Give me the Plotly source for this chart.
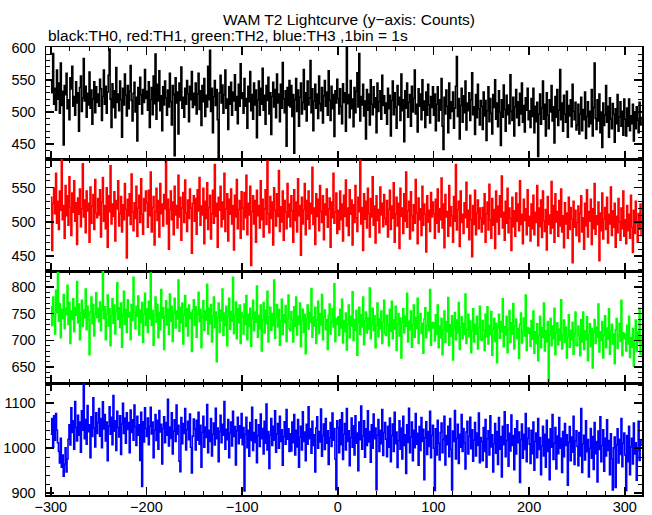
import plotly.graph_objects as go
from plotly.subplots import make_subplots

# time bins: 1 bin = 1 s, first bin at t = -300 s
t_start = -300
bin_size = 1

th0 = [
548, 530, 591, 512, 537, 503, 565, 520, 545, 498, 576, 510, 532, 449, 541, 527, 560, 505, 519, 488, 553, 536, 571, 509, 524, 495, 547, 514, 530, 470, 538, 556, 501, 522, 583, 517, 540, 492, 529, 511, 562, 506, 534, 481, 520, 547, 499, 539, 515, 528,
509, 551, 536, 487, 524, 565, 512, 540, 498, 531, 557, 598, 520, 476, 544, 507, 533, 491, 569, 515, 528, 502, 548, 519, 461, 537, 511, 559, 526, 494, 541, 505, 532, 572, 518, 486, 529, 546, 500, 523, 455, 538, 512, 554, 527, 497, 535, 515, 566, 521,
532, 503, 547, 476, 519, 538, 496, 556, 513, 590, 489, 543, 517, 564, 502, 525, 471, 539, 511, 548, 522, 495, 534, 508, 560, 516, 480, 541, 527, 432, 553, 514, 531, 466, 545, 518, 570, 506, 523, 492, 537, 512, 549, 528, 485, 540, 519, 563, 507, 529,
511, 545, 497, 528, 560, 504, 533, 479, 541, 516, 552, 493, 526, 508, 571, 519, 596, 501, 537, 468, 524, 549, 510, 535, 488, 428, 530, 557, 514, 542, 498, 527, 565, 506, 520, 473, 539, 512, 546, 495, 531, 517, 558, 503, 524, 482, 543, 509, 575, 521,
530, 498, 552, 509, 521, 475, 540, 516, 563, 502, 527, 489, 545, 511, 534, 460, 519, 548, 495, 537, 512, 568, 503, 526, 481, 541, 518, 554, 497, 530, 465, 524, 546, 508, 535, 491, 559, 514, 528, 485, 543, 506, 577, 520, 499, 533, 447, 538, 510, 549,
508, 541, 493, 527, 436, 519, 552, 501, 534, 478, 523, 545, 497, 515, 566, 504, 530, 486, 548, 511, 522, 580, 499, 536, 471, 517, 543, 506, 528, 490, 556, 513, 502, 538, 483, 525, 549, 509, 531, 495, 564, 518, 487, 540, 505, 527, 462, 533, 514, 551,
521, 497, 536, 509, 482, 544, 515, 530, 470, 606, 513, 527, 491, 549, 505, 520, 477, 538, 499, 532, 561, 508, 591, 486, 524, 511, 543, 494, 517, 458, 535, 503, 528, 480, 550, 512, 496, 539, 507, 522, 468, 545, 501, 516, 533, 489, 557, 510, 525, 498,
514, 481, 537, 505, 526, 463, 518, 548, 496, 530, 508, 475, 541, 511, 523, 487, 559, 502, 519, 454, 533, 506, 545, 492, 515, 527, 478, 540, 500, 521, 565, 497, 512, 469, 536, 509, 528, 488, 550, 503, 517, 476, 531, 495, 543, 511, 483, 524, 507, 539,
495, 528, 471, 512, 539, 486, 519, 503, 552, 478, 442, 523, 497, 534, 509, 468, 545, 490, 516, 501, 531, 475, 506, 540, 586, 493, 521, 458, 510, 537, 484, 525, 499, 548, 472, 514, 502, 530, 487, 519, 561, 496, 508, 465, 527, 491, 543, 505, 480, 518,
509, 473, 531, 494, 518, 456, 502, 539, 485, 521, 498, 466, 527, 507, 550, 489, 514, 477, 533, 500, 448, 519, 492, 542, 504, 470, 526, 496, 511, 482, 558, 501, 487, 523, 463, 508, 535, 491, 516, 479, 529, 497, 545, 484, 510, 469, 522, 503, 537, 488,
502, 476, 521, 493, 537, 468, 509, 485, 515, 431, 497, 528, 481, 506, 548, 489, 512, 463, 530, 495, 474, 519, 500, 541, 486, 508, 452, 524, 492, 535, 479, 503, 566, 488, 514, 470, 526, 497, 484, 532, 461, 510, 494, 519, 477, 543, 501, 488, 515, 472,
480, 512, 466, 497, 523, 471, 504, 488, 531, 459, 493, 516, 477, 501, 482, 535, 463, 507, 576, 490, 473, 519, 486, 528, 468, 500, 445, 514, 479, 495, 541, 484, 509, 461, 522, 489, 474, 513, 497, 453, 505, 482, 527, 470, 492, 516, 478, 501, 464, 520,
489, 463, 506, 478, 520, 471, 494, 482, 512, 455, 499, 474, 508, 487, 468, 515, 480, 493,
]

th1 = [
536, 458, 527, 549, 512, 571, 498, 530, 489, 545, 517, 591, 503, 524, 476, 553, 509, 538, 495, 566, 521, 480, 542, 514, 560, 501, 528, 467, 535, 511, 548, 493, 519, 585, 507, 532, 484, 545, 516, 527, 470, 551, 498, 523, 540, 489, 562, 513, 506, 534,
510, 547, 478, 529, 565, 501, 524, 490, 550, 463, 538, 515, 582, 497, 526, 508, 544, 472, 531, 519, 560, 494, 512, 537, 485, 525, 503, 556, 518, 447, 533, 509, 541, 496, 570, 514, 487, 528, 505, 552, 479, 520, 539, 499, 563, 511, 482, 534, 516, 545,
528, 492, 546, 509, 573, 485, 521, 537, 466, 515, 549, 502, 531, 478, 556, 512, 526, 494, 540, 519, 588, 497, 533, 460, 518, 545, 503, 529, 481, 552, 510, 524, 491, 568, 507, 536, 473, 520, 543, 499, 561, 513, 486, 532, 505, 548, 520, 454, 527, 538,
501, 534, 482, 547, 516, 565, 495, 523, 510, 549, 468, 530, 505, 557, 489, 521, 539, 475, 512, 546, 498, 584, 508, 527, 463, 536, 517, 552, 493, 529, 504, 571, 486, 519, 541, 472, 533, 511, 548, 497, 524, 459, 539, 507, 562, 490, 518, 531, 476, 544,
520, 489, 543, 506, 568, 481, 527, 510, 552, 436, 515, 538, 497, 531, 470, 546, 509, 524, 491, 560, 503, 533, 478, 519, 547, 496, 589, 512, 484, 537, 505, 529, 466, 550, 517, 494, 541, 508, 575, 486, 522, 500, 545, 473, 531, 514, 490, 556, 507, 526,
493, 538, 516, 470, 547, 502, 529, 485, 563, 509, 524, 451, 536, 497, 518, 556, 481, 531, 504, 545, 490, 527, 512, 580, 496, 520, 467, 541, 508, 533, 487, 553, 515, 499, 538, 474, 526, 510, 548, 492, 519, 535, 463, 529, 506, 571, 498, 514, 542, 483,
517, 489, 545, 503, 526, 472, 539, 508, 561, 494, 520, 480, 547, 511, 532, 466, 525, 499, 553, 506, 486, 536, 515, 590, 497, 521, 458, 541, 504, 530, 491, 549, 512, 478, 534, 507, 566, 495, 523, 469, 538, 502, 518, 484, 551, 510, 527, 493, 540, 505,
496, 531, 478, 518, 546, 489, 523, 505, 557, 470, 512, 536, 494, 527, 461, 549, 508, 520, 483, 541, 501, 573, 492, 516, 530, 475, 544, 509, 487, 525, 498, 562, 513, 468, 535, 503, 519, 480, 552, 495, 526, 511, 456, 538, 500, 517, 486, 543, 507, 529,
512, 476, 533, 498, 548, 485, 519, 503, 564, 491, 526, 462, 540, 507, 515, 479, 553, 494, 522, 509, 470, 537, 501, 584, 488, 518, 530, 464, 545, 499, 511, 483, 528, 506, 558, 492, 517, 474, 539, 503, 449, 524, 496, 546, 481, 513, 532, 490, 520, 505,
485, 521, 497, 541, 470, 512, 529, 488, 555, 503, 476, 534, 495, 518, 461, 545, 500, 523, 482, 538, 507, 567, 491, 514, 473, 530, 498, 549, 484, 520, 505, 458, 536, 493, 516, 479, 542, 501, 526, 487, 560, 496, 511, 468, 533, 502, 519, 481, 547, 494,
508, 472, 526, 490, 539, 481, 514, 499, 553, 465, 520, 493, 532, 477, 545, 502, 486, 518, 459, 537, 496, 510, 483, 559, 491, 524, 470, 541, 500, 515, 479, 531, 494, 548, 485, 509, 462, 528, 497, 513, 476, 536, 489, 521, 504, 440, 530, 492, 517, 480,
499, 523, 471, 512, 538, 485, 506, 460, 527, 494, 547, 478, 515, 501, 533, 467, 519, 490, 556, 482, 509, 496, 529, 443, 513, 487, 542, 475, 504, 521, 489, 536, 469, 511, 497, 551, 480, 516, 492, 527, 463, 508, 484, 534, 500, 473, 520, 490, 545, 479,
503, 468, 524, 487, 511, 476, 539, 492, 455, 517, 483, 530, 498, 470, 512, 489, 526, 479,
]

th2 = [
763, 728, 781, 745, 712, 794, 752, 827, 736, 769, 705, 758, 741, 786, 722, 760, 748, 803, 730, 771, 694, 755, 739, 778, 716, 762, 747, 810, 733, 768, 701, 751, 775, 726, 757, 742, 796, 720, 764, 738, 673, 753, 781, 731, 767, 708, 749, 789, 743, 760,
735, 772, 718, 756, 829, 741, 763, 701, 750, 785, 727, 759, 690, 746, 778, 732, 766, 712, 754, 808, 739, 761, 724, 770, 687, 748, 792, 730, 758, 715, 776, 744, 752, 701, 767, 737, 818, 753, 722, 764, 745, 783, 710, 757, 733, 771, 696, 749, 788, 728,
759, 715, 773, 740, 826, 728, 756, 691, 748, 781, 734, 767, 705, 752, 720, 795, 742, 761, 683, 745, 774, 729, 758, 711, 787, 736, 764, 698, 750, 779, 723, 755, 740, 813, 717, 762, 733, 770, 693, 747, 784, 726, 759, 708, 766, 741, 752, 679, 757, 776,
728, 763, 706, 749, 790, 735, 758, 686, 744, 774, 719, 755, 738, 805, 712, 760, 731, 767, 697, 746, 781, 724, 753, 660, 742, 770, 715, 757, 737, 796, 709, 751, 728, 764, 690, 745, 779, 721, 754, 736, 818, 713, 748, 772, 703, 759, 733, 766, 694, 752,
745, 712, 768, 730, 784, 701, 749, 726, 760, 689, 741, 775, 718, 753, 734, 802, 706, 747, 722, 766, 680, 739, 771, 714, 756, 731, 792, 697, 744, 762, 719, 750, 728, 813, 704, 742, 767, 725, 758, 691, 736, 777, 711, 748, 733, 765, 698, 740, 785, 722,
718, 754, 739, 697, 763, 726, 781, 710, 745, 730, 770, 688, 736, 758, 715, 749, 675, 741, 766, 721, 752, 734, 797, 706, 743, 727, 762, 694, 738, 773, 713, 750, 729, 786, 701, 744, 757, 720, 739, 683, 747, 768, 712, 735, 759, 725, 806, 698, 741, 730,
744, 709, 758, 723, 777, 695, 737, 716, 751, 682, 730, 766, 705, 745, 727, 791, 700, 739, 719, 756, 672, 733, 762, 711, 748, 725, 781, 692, 736, 753, 714, 742, 721, 798, 703, 731, 760, 718, 746, 686, 728, 770, 707, 740, 722, 755, 694, 734, 775, 713,
709, 747, 729, 690, 758, 717, 773, 703, 738, 721, 764, 681, 731, 750, 708, 742, 667, 734, 759, 714, 745, 726, 788, 697, 736, 720, 755, 687, 730, 766, 706, 743, 722, 779, 694, 737, 750, 713, 732, 676, 740, 761, 705, 728, 752, 718, 795, 691, 734, 723,
733, 699, 748, 712, 766, 686, 727, 705, 741, 673, 720, 755, 696, 735, 716, 780, 691, 729, 708, 746, 663, 722, 752, 701, 738, 714, 771, 683, 725, 744, 703, 732, 711, 787, 694, 720, 749, 707, 736, 677, 718, 759, 697, 730, 712, 745, 684, 724, 764, 702,
700, 737, 719, 681, 749, 707, 763, 693, 728, 711, 754, 672, 721, 741, 698, 732, 658, 725, 749, 704, 735, 716, 778, 688, 726, 710, 745, 677, 720, 756, 696, 733, 712, 769, 684, 727, 740, 703, 722, 666, 730, 751, 695, 718, 742, 708, 785, 681, 724, 713,
722, 689, 737, 702, 755, 676, 716, 694, 731, 662, 709, 745, 686, 724, 706, 770, 680, 718, 697, 735, 624, 711, 741, 690, 727, 703, 760, 673, 714, 733, 692, 721, 700, 776, 684, 710, 738, 696, 725, 667, 707, 748, 687, 719, 701, 734, 674, 713, 753, 691,
690, 727, 709, 671, 739, 697, 753, 683, 718, 701, 744, 662, 711, 731, 688, 722, 648, 715, 739, 694, 725, 706, 768, 678, 716, 700, 735, 667, 710, 746, 686, 723, 702, 759, 674, 717, 730, 693, 712, 656, 720, 741, 685, 708, 732, 698, 775, 671, 714, 703,
712, 680, 728, 693, 745, 668, 705, 687, 722, 652, 700, 738, 679, 716, 697, 760, 673, 710,
]

th3 = [
1031, 1066, 1002, 1072, 1018, 1077, 1040, 1012, 993, 967, 1022, 958, 985, 938, 964, 1001, 947, 976, 1020, 1052, 1007, 1090, 1035, 1061, 998, 1104, 1046, 1016, 1073, 1029, 1058, 991, 1083, 1040, 1147, 1021, 1064, 1009, 1095, 1037, 1052, 979, 1070, 1026, 1112, 1045, 1003, 1079, 1033, 1057,
1088, 1027, 1066, 1001, 1103, 1043, 1075, 1016, 1058, 972, 1049, 1092, 1031, 1069, 1008, 1117, 1038, 1061, 995, 1082, 1046, 1025, 1072, 986, 1054, 1100, 1033, 1067, 1011, 1079, 1042, 1057, 990, 1085, 1035, 1063, 1018, 1096, 1048, 1006, 1071, 1029, 1052, 973, 1080, 915, 1059, 1014, 1090, 1044,
1026, 1067, 1008, 1049, 1091, 1032, 1058, 979, 1040, 1075, 1017, 1062, 998, 1084, 1036, 1053, 965, 1044, 1070, 1012, 1057, 1029, 1109, 1005, 1047, 1022, 1079, 987, 1038, 1063, 1015, 1096, 1031, 1051, 971, 948, 1068, 1010, 1055, 1033, 1088, 996, 1041, 1060, 1019, 1076, 1002, 945, 1027, 1065,
1043, 996, 1062, 1018, 1080, 1009, 1051, 958, 1035, 1071, 1002, 1047, 1024, 1097, 990, 1040, 1015, 1066, 983, 1031, 1056, 1007, 1089, 1021, 1045, 970, 1037, 1073, 1012, 1053, 1029, 1104, 998, 1042, 1019, 1064, 979, 1034, 1058, 1005, 1082, 1026, 1048, 963, 1039, 1069, 1010, 1050, 1023, 1077,
1008, 1046, 905, 1031, 1069, 1001, 1040, 982, 1057, 1017, 1091, 995, 1035, 1013, 1063, 968, 1028, 1052, 1004, 1076, 1021, 1044, 987, 1060, 1011, 1098, 996, 1037, 955, 1029, 1066, 1006, 1049, 1018, 1083, 991, 1032, 1055, 1000, 1071, 1015, 1041, 962, 1026, 1059, 1009, 1086, 1020, 1043, 993,
1032, 994, 1058, 1012, 1075, 985, 1040, 1003, 1064, 958, 1025, 1049, 996, 1081, 1015, 1036, 972, 1053, 1009, 1092, 1021, 1043, 989, 1060, 1006, 1030, 947, 1045, 1070, 1000, 1037, 1014, 1087, 982, 1028, 1054, 997, 1066, 1011, 1039, 964, 1023, 1057, 1004, 1078, 1018, 1044, 976, 908, 1061,
1046, 990, 1063, 1008, 1079, 975, 1031, 1055, 996, 1088, 1015, 1039, 961, 1024, 1067, 1002, 1050, 985, 1072, 1011, 1034, 950, 1058, 1019, 1094, 998, 1027, 1061, 980, 1043, 1006, 1083, 1014, 1037, 969, 1052, 1000, 1076, 1021, 1045, 908, 1029, 1064, 993, 1040, 1010, 1086, 984, 1035, 1057,
1020, 981, 1049, 1002, 1067, 970, 1028, 1054, 993, 1080, 1010, 1036, 957, 1017, 1061, 998, 1045, 976, 1071, 1006, 1030, 944, 1052, 1013, 1089, 990, 1025, 1058, 972, 1040, 1001, 1077, 1009, 1033, 962, 1048, 995, 1068, 1015, 1042, 930, 1023, 1059, 986, 1037, 1004, 1082, 979, 1029, 1051,
1000, 906, 1043, 985, 1062, 1011, 974, 1035, 1056, 990, 1019, 1071, 963, 1028, 1008, 1049, 981, 1066, 997, 907, 1038, 1015, 1084, 976, 1022, 1053, 966, 1031, 1002, 1075, 993, 1044, 1012, 954, 1036, 1060, 987, 1026, 1069, 999, 1041, 971, 1018, 1057, 983, 1034, 1006, 1078, 968, 1024,
1015, 972, 1046, 993, 1064, 958, 1021, 1039, 985, 1072, 1003, 1030, 947, 1010, 1055, 989, 1037, 964, 1068, 998, 1026, 936, 1049, 1008, 1081, 981, 1017, 1052, 960, 1033, 994, 1074, 1006, 1028, 952, 1043, 987, 1061, 1012, 1036, 924, 1019, 1054, 978, 1031, 997, 1077, 970, 1022, 1045,
1009, 966, 1040, 988, 1058, 951, 1015, 1034, 979, 1066, 997, 1024, 941, 1005, 1049, 983, 1031, 958, 1062, 993, 1020, 930, 1043, 1002, 1075, 975, 1011, 1046, 954, 1027, 988, 1068, 1000, 1022, 946, 1037, 981, 1055, 1006, 1030, 918, 1013, 1048, 972, 1025, 991, 1071, 964, 1016, 1039,
1004, 961, 1035, 983, 1088, 946, 1010, 1029, 974, 1061, 992, 1019, 936, 1000, 1044, 978, 1026, 953, 1057, 988, 1015, 925, 1038, 997, 1070, 970, 1006, 1041, 949, 1022, 983, 1063, 995, 1017, 941, 1032, 976, 907, 1001, 1025, 913, 1008, 1043, 967, 1020, 986, 1066, 959, 1011, 1034,
985, 906, 1028, 970, 1049, 941, 1003, 1022, 965, 1056, 987, 1012, 929, 995, 1060, 973, 1018, 1005,
]

series = [("TH0", th0, "#000000"), ("TH1", th1, "#ff0000"),
          ("TH2", th2, "#00ff00"), ("TH3", th3, "#0000ff")]

y_ranges = [[427, 601], [428, 592], [620, 830], [896, 1145]]
y_dticks = [50, 50, 50, 100]
y_minor = [10, 10, 10, 20]
x_range = [-305, 318]

title_text = "WAM T2 Lightcurve (y\u2212axis: Counts)"
subtitle_text = "black:TH0, red:TH1, green:TH2, blue:TH3 ,1bin = 1s"

FONT = "Liberation Sans, Arial, Helvetica, sans-serif"

fig = make_subplots(rows=4, cols=1, shared_xaxes=True, vertical_spacing=0)

for i, (name, vals, col) in enumerate(series):
    tt = [t_start + k * bin_size for k in range(len(vals))]
    fig.add_trace(go.Scatter(x=tt, y=vals, mode="lines", name=name,
                             line=dict(color=col, width=1.6, shape="hv"),
                             showlegend=False, hoverinfo="skip"),
                  row=i + 1, col=1)

axis_common = dict(showline=True, linecolor="black", linewidth=1.5, mirror="ticks",
                   ticks="inside", ticklen=8, tickwidth=1.5, tickcolor="black",
                   showgrid=False, zeroline=False, automargin=False,
                   tickfont=dict(family=FONT, size=14.5, color="black"))

for i in range(4):
    fig.update_xaxes(range=x_range, tick0=0, dtick=100,
                     minor=dict(ticks="inside", ticklen=4, dtick=20, tickcolor="black", tickwidth=1),
                     **axis_common, row=i + 1, col=1)
    fig.update_yaxes(range=y_ranges[i], tick0=0, dtick=y_dticks[i], ticklabelstandoff=6,
                     minor=dict(ticks="inside", ticklen=4, dtick=y_minor[i], tickcolor="black", tickwidth=1),
                     **axis_common, row=i + 1, col=1)

fig.update_xaxes(showticklabels=True, ticklabelstandoff=-2, row=4, col=1)

fig.add_annotation(text=title_text, xref="paper", yref="paper", x=0.508, y=1.0625,
                   xanchor="center", yanchor="middle", showarrow=False,
                   font=dict(family=FONT, size=15.5, color="black"))
fig.add_annotation(text=subtitle_text, xref="paper", yref="paper", x=0.0, y=1.0246,
                   xanchor="left", yanchor="middle", showarrow=False,
                   font=dict(family=FONT, size=15.5, color="black"))

fig.update_layout(width=652, height=515, margin=dict(l=46, r=10, t=47, b=20, autoexpand=False),
                  paper_bgcolor="white", plot_bgcolor="white",
                  font=dict(family=FONT, size=14.5, color="black"))

# remove the default 8 px page margin so the figure fills the window exactly
fig.write_html("out.html", config={"displayModeBar": False, "staticPlot": True},
               post_script="document.body.style.margin='0px';document.body.style.overflow='hidden';")
